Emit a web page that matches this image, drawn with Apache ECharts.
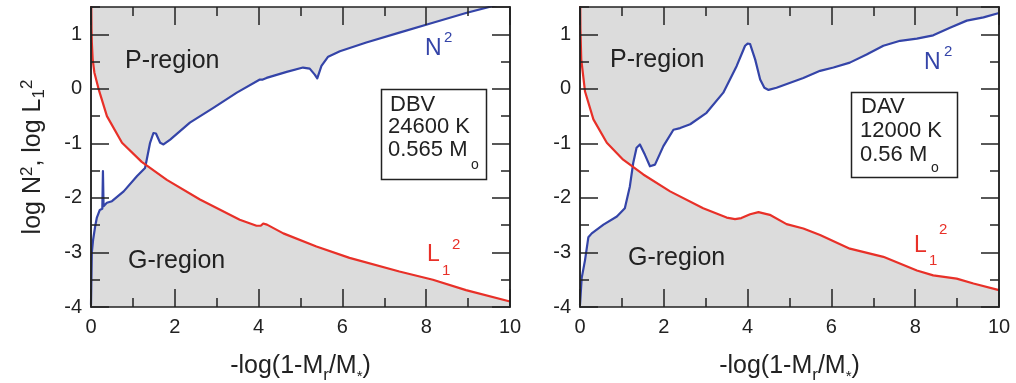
<!DOCTYPE html>
<html><head><meta charset="utf-8">
<script src="https://cdn.jsdelivr.net/npm/echarts@6/dist/echarts.min.js"></script>
<style>html,body{margin:0;padding:0;background:#fff}#c{width:1016px;height:383px}</style>
</head><body><div id="c"></div>
<script>
// ---- data ----
const xRange = [0, 10];
const yRange = [-4, 1.5];
// DBV panel (left)
const dbvN2 = [[0,-3.96],[0.02,-3.0],[0.05,-2.77],[0.10,-2.52],[0.14,-2.36],[0.21,-2.22],[0.27,-2.2],[0.285,-1.51],[0.30,-2.15],[0.38,-2.09],[0.50,-2.06],[0.78,-1.88],[1.10,-1.60],[1.29,-1.45],[1.33,-1.30],[1.41,-0.99],[1.49,-0.81],[1.55,-0.82],[1.65,-0.99],[1.73,-1.02],[1.89,-0.93],[2.36,-0.62],[2.92,-0.35],[3.48,-0.07],[4.03,0.17],[4.10,0.17],[4.19,0.20],[4.67,0.31],[5.06,0.39],[5.22,0.37],[5.34,0.26],[5.40,0.19],[5.50,0.42],[5.66,0.59],[5.94,0.69],[6.57,0.85],[7.36,1.03],[8.16,1.21],[8.95,1.39],[9.55,1.51],[10,1.6]];
const dbvL2 = [[0.005,1.6],[0.012,1.1],[0.02,0.85],[0.04,0.54],[0.08,0.3],[0.18,0.0],[0.38,-0.5],[0.74,-0.99],[1.21,-1.34],[1.81,-1.67],[2.60,-2.03],[3.55,-2.40],[3.95,-2.51],[4.05,-2.51],[4.11,-2.47],[4.20,-2.49],[4.59,-2.65],[5.38,-2.89],[6.17,-3.10],[7.36,-3.35],[8.16,-3.50],[8.95,-3.69],[10,-3.90]];
// DAV panel (right)
const davN2 = [[0,-3.96],[0.04,-3.47],[0.12,-3.14],[0.20,-2.72],[0.28,-2.65],[0.56,-2.49],[0.88,-2.34],[1.07,-2.19],[1.19,-1.79],[1.27,-1.36],[1.35,-1.08],[1.43,-1.02],[1.55,-1.21],[1.67,-1.42],[1.79,-1.39],[1.99,-1.05],[2.23,-0.75],[2.39,-0.72],[2.63,-0.65],[3.02,-0.44],[3.42,-0.07],[3.74,0.42],[3.94,0.79],[4.00,0.83],[4.06,0.82],[4.18,0.54],[4.30,0.17],[4.40,0.02],[4.50,-0.02],[4.69,0.02],[5.33,0.20],[5.73,0.33],[6.05,0.39],[6.44,0.48],[6.84,0.63],[7.24,0.79],[7.64,0.88],[8.04,0.92],[8.43,0.98],[8.83,1.12],[9.23,1.25],[9.63,1.31],[10,1.39]];
const davL2 = [[0.004,1.6],[0.01,1.1],[0.03,0.54],[0.12,-0.05],[0.32,-0.56],[0.64,-0.99],[1.03,-1.30],[1.51,-1.57],[2.15,-1.88],[2.94,-2.19],[3.50,-2.36],[3.70,-2.39],[3.85,-2.37],[4.06,-2.30],[4.26,-2.26],[4.53,-2.31],[4.93,-2.48],[5.33,-2.56],[5.73,-2.68],[6.44,-2.93],[7.24,-3.08],[8.04,-3.33],[8.43,-3.42],[8.99,-3.48],[9.39,-3.57],[10,-3.69]];
const boxDBV = ['DBV', '24600 K', '0.565 M', 'o'];
const boxDAV = ['DAV', '12000 K', '0.56 M', 'o'];

// ---- styling ----
const FONT = 'Liberation Sans, Arial, Helvetica, sans-serif';
const INK = '#222';
const BLUE = '#3444a8';
const RED = '#e83028';
const GRAY = '#dcdcdc';

const chart = echarts.init(document.getElementById('c'), null, {renderer: 'canvas'});

const lineSt = {color: INK, width: 1.5};
function xAx(g, pos, labels, name) {
  return {
    gridIndex: g, type: 'value', min: xRange[0], max: xRange[1], interval: 2, position: pos, z: 5,
    axisLine: {show: true, onZero: false, lineStyle: lineSt},
    axisTick: {show: true, inside: true, length: 18, lineStyle: lineSt},
    minorTick: {show: true, splitNumber: 2, length: 9, lineStyle: lineSt},
    splitLine: {show: false}, minorSplitLine: {show: false},
    axisLabel: {show: labels, margin: 10, fontSize: 20, color: INK, fontFamily: FONT},
    name: name || '', nameLocation: 'middle', nameGap: 42,
    nameTextStyle: {fontSize: 25, color: INK, fontFamily: FONT,
      rich: {sub: {fontSize: 17, fontFamily: FONT, color: INK, verticalAlign: 'bottom', padding: [18, 0, 0, 0]},
             st: {fontSize: 15, fontFamily: FONT, color: INK, verticalAlign: 'bottom', padding: [11, 0, 0, 0]}}}
  };
}
function yAx(g, pos, interval, tickLen, labels, name) {
  return {
    gridIndex: g, type: 'value', min: yRange[0], max: yRange[1], interval: interval, position: pos, z: 5,
    axisLine: {show: true, onZero: false, lineStyle: lineSt},
    axisTick: {show: true, inside: true, length: tickLen, lineStyle: lineSt},
    splitLine: {show: false},
    axisLabel: {show: labels, margin: 9, fontSize: 20, color: INK, fontFamily: FONT, showMaxLabel: false},
    name: name || '', nameLocation: 'middle', nameGap: 43, nameRotate: 90,
    nameTextStyle: {fontSize: 25, color: INK, fontFamily: FONT,
      rich: {sup: {fontSize: 17, fontFamily: FONT, color: INK, verticalAlign: 'top', padding: [0, 0, 12, 0]},
             sub: {fontSize: 17, fontFamily: FONT, color: INK, verticalAlign: 'bottom', padding: [12, 0, 0, 0]}}}
  };
}
const xName = '-log(1-M{sub|r}/M{st|*})';
const yName = 'log N{sup|2}, log L{sub|1}{sup|2}';

function band(xi, yi, nData, lData) {
  return {
    type: 'custom', xAxisIndex: xi, yAxisIndex: yi, clip: true, silent: true, z: 1,
    data: [[0, 0]],
    renderItem: function (params, api) {
      const pts = [];
      for (let i = 0; i < nData.length; i++) pts.push(api.coord(nData[i]));
      for (let i = lData.length - 1; i >= 0; i--) pts.push(api.coord(lData[i]));
      return {type: 'polygon', shape: {points: pts}, style: {fill: '#ffffff', stroke: null}};
    }
  };
}
function curve(xi, yi, data, color) {
  return {type: 'line', xAxisIndex: xi, yAxisIndex: yi, data: data, showSymbol: false, symbol: 'none',
    smooth: false, clip: true, z: 3, silent: true, lineStyle: {color: color, width: 2.2, join: 'round'}};
}

function txt(x, y, text, size, color, extra) {
  return Object.assign({type: 'text', x: x, y: y, z: 20, silent: true,
    style: {text: text, fontSize: size, fontFamily: FONT, fill: color || INK, align: 'left', verticalAlign: 'middle'}}, extra || {});
}

const graphics = [
  // left panel annotations
  txt(125, 61, 'P-region', 25), txt(128, 261, 'G-region', 25),
  txt(425, 49, 'N', 23, BLUE), txt(444, 38, '2', 15, BLUE),
  txt(427, 255, 'L', 23, RED), txt(442, 271, '1', 15, RED), txt(452, 245, '2', 15, RED),
  {type: 'rect', z: 19, silent: true, shape: {x: 381.5, y: 89.5, width: 105, height: 90}, style: {fill: '#fff', stroke: INK, lineWidth: 1.5}},
  txt(390, 105, boxDBV[0], 22), txt(388, 127, boxDBV[1], 22), txt(388, 150, boxDBV[2], 22), txt(471, 165, boxDBV[3], 14),
  // right panel annotations
  txt(610, 60, 'P-region', 25), txt(628, 258, 'G-region', 25),
  txt(924, 63, 'N', 23, BLUE), txt(944, 52, '2', 15, BLUE),
  txt(914, 246, 'L', 23, RED), txt(929, 261, '1', 15, RED), txt(939, 230, '2', 15, RED),
  {type: 'rect', z: 19, silent: true, shape: {x: 851.5, y: 92.5, width: 106, height: 85}, style: {fill: '#fff', stroke: INK, lineWidth: 1.5}},
  txt(861, 107, boxDAV[0], 22), txt(860, 131, boxDAV[1], 22), txt(860, 155, boxDAV[2], 22), txt(931, 168, boxDAV[3], 14)
];

const option = {
  animation: false,
  backgroundColor: '#fff',
  grid: [
    {left: 91, top: 7, width: 419, height: 300, show: true, backgroundColor: GRAY, borderWidth: 0, outerBoundsMode: 'none', containLabel: false},
    {left: 580, top: 7, width: 419, height: 300, show: true, backgroundColor: GRAY, borderWidth: 0, outerBoundsMode: 'none', containLabel: false}
  ],
  xAxis: [
    xAx(0, 'bottom', true, xName), xAx(0, 'top', false),
    xAx(1, 'bottom', true, xName), xAx(1, 'top', false)
  ],
  yAxis: [
    yAx(0, 'left', 1, 18, true, yName), yAx(0, 'right', 1, 18, false), yAx(0, 'left', 0.5, 9, false), yAx(0, 'right', 0.5, 9, false),
    yAx(1, 'left', 1, 18, true), yAx(1, 'right', 1, 18, false), yAx(1, 'left', 0.5, 9, false), yAx(1, 'right', 0.5, 9, false)
  ],
  series: [
    band(0, 0, dbvN2, dbvL2), curve(0, 0, dbvN2, BLUE), curve(0, 0, dbvL2, RED),
    band(2, 4, davN2, davL2), curve(2, 4, davN2, BLUE), curve(2, 4, davL2, RED)
  ],
  graphic: graphics
};
chart.setOption(option);
</script>
</body></html>
